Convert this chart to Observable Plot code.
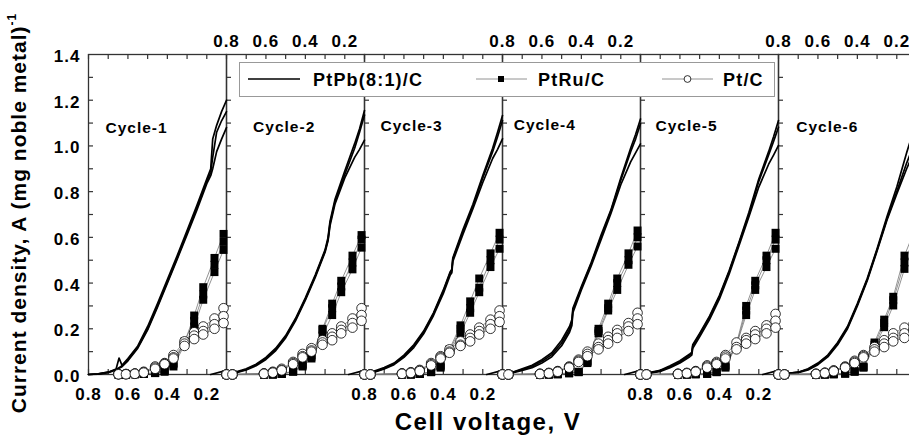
<!DOCTYPE html>
<html>
<head>
<meta charset="utf-8">
<script src="https://cdn.jsdelivr.net/npm/d3@7"></script>
<script src="https://cdn.jsdelivr.net/npm/@observablehq/plot@0.6"></script>
<style>
  html, body { margin: 0; padding: 0; background: white; overflow: hidden; }
  #chart svg text { letter-spacing: 1px; }
</style>
</head>
<body>
<div id="chart"></div>
<script>
// ---------- data ----------
const cycles = [1, 2, 3, 4, 5, 6];
const cycleLabels = ["Cycle-1", "Cycle-2", "Cycle-3", "Cycle-4", "Cycle-5", "Cycle-6"];
const cycleLabelVolt = [0.714, 0.665, 0.719, 0.743, 0.724, 0.71];
const cycleLabelCurr = [1.055, 1.06, 1.067, 1.07, 1.067, 1.06];

const xTickVolts = [0.8, 0.7, 0.6, 0.5, 0.4, 0.3, 0.2];
const xLabelVolts = [0.8, 0.6, 0.4, 0.2];
const xLabelText = ["0.8", "0.6", "0.4", "0.2"];
const bottomLabelCycles = [1, 3, 5];
const topLabelCycles = [2, 4, 6];
const yTickCurr = [0, 0.1, 0.2, 0.3, 0.4, 0.5, 0.6, 0.7, 0.8, 0.9, 1.0, 1.1, 1.2, 1.3];
const yLabelCurr = [0, 0.2, 0.4, 0.6, 0.8, 1.0, 1.2, 1.4];
const yLabelText = ["0.0", "0.2", "0.4", "0.6", "0.8", "1.0", "1.2", "1.4"];

const seriesNames = ["PtPb(8:1)/C", "PtRu/C", "Pt/C"];

// PtPb(8:1)/C : voltage grid per cycle, three runs
const ptpbVolt = [
  [0.8, 0.75, 0.7, 0.66, 0.645, 0.63, 0.6, 0.55, 0.5, 0.45, 0.4, 0.35, 0.3, 0.25, 0.2, 0.18, 0.17, 0.15, 0.125, 0.1],
  [0.8, 0.75, 0.7, 0.65, 0.6, 0.55, 0.5, 0.45, 0.4, 0.35, 0.3, 0.285, 0.275, 0.25, 0.2, 0.15, 0.125, 0.1],
  [0.8, 0.75, 0.7, 0.65, 0.6, 0.55, 0.5, 0.45, 0.4, 0.365, 0.357, 0.352, 0.3, 0.25, 0.2, 0.15, 0.125, 0.1],
  [0.8, 0.75, 0.7, 0.65, 0.6, 0.55, 0.5, 0.46, 0.448, 0.443, 0.4, 0.35, 0.3, 0.25, 0.2, 0.15, 0.125, 0.1],
  [0.8, 0.75, 0.7, 0.65, 0.6, 0.55, 0.54, 0.535, 0.5, 0.45, 0.4, 0.35, 0.3, 0.25, 0.2, 0.15, 0.125, 0.1],
  [0.8, 0.75, 0.7, 0.65, 0.6, 0.55, 0.5, 0.45, 0.4, 0.35, 0.3, 0.25, 0.2, 0.15, 0.125, 0.1]
];
const ptpbRunA = [
  [0, 0.003, 0.01, 0.024, 0.072, 0.04, 0.07, 0.125, 0.21, 0.31, 0.415, 0.52, 0.63, 0.74, 0.855, 0.9, 1.03, 1.09, 1.15, 1.2],
  [0.005, 0.012, 0.025, 0.045, 0.075, 0.115, 0.17, 0.245, 0.335, 0.435, 0.545, 0.6, 0.67, 0.765, 0.89, 1.01, 1.075, 1.155],
  [0.003, 0.015, 0.03, 0.05, 0.085, 0.13, 0.19, 0.27, 0.37, 0.45, 0.46, 0.51, 0.635, 0.745, 0.87, 0.99, 1.06, 1.133],
  [0.003, 0.01, 0.025, 0.04, 0.065, 0.095, 0.15, 0.21, 0.24, 0.29, 0.385, 0.49, 0.61, 0.72, 0.86, 0.99, 1.05, 1.118],
  [0.005, 0.01, 0.018, 0.038, 0.06, 0.09, 0.097, 0.13, 0.18, 0.255, 0.345, 0.455, 0.58, 0.71, 0.855, 0.975, 1.04, 1.111],
  [0.003, 0.005, 0.01, 0.025, 0.05, 0.085, 0.14, 0.21, 0.31, 0.42, 0.55, 0.69, 0.82, 0.97, 1.04, 1.1]
];
const ptpbRunB = [
  [0, 0.003, 0.01, 0.022, 0.03, 0.038, 0.065, 0.12, 0.2, 0.3, 0.405, 0.51, 0.62, 0.73, 0.845, 0.885, 0.95, 1.06, 1.11, 1.15],
  [0.004, 0.01, 0.022, 0.042, 0.07, 0.11, 0.165, 0.24, 0.33, 0.43, 0.54, 0.59, 0.66, 0.755, 0.875, 0.99, 1.06, 1.135],
  [0.003, 0.012, 0.027, 0.047, 0.08, 0.125, 0.185, 0.265, 0.365, 0.445, 0.455, 0.505, 0.625, 0.735, 0.86, 0.975, 1.04, 1.111],
  [0.003, 0.009, 0.022, 0.036, 0.058, 0.087, 0.138, 0.197, 0.228, 0.28, 0.378, 0.485, 0.6, 0.715, 0.85, 0.975, 1.03, 1.097],
  [0.004, 0.008, 0.016, 0.034, 0.055, 0.085, 0.092, 0.125, 0.175, 0.25, 0.34, 0.45, 0.575, 0.7, 0.845, 0.96, 1.02, 1.082],
  [0.003, 0.005, 0.01, 0.023, 0.047, 0.082, 0.135, 0.205, 0.305, 0.415, 0.545, 0.68, 0.8, 0.925, 0.98, 1.04]
];
const ptpbRunC = [
  [0, 0.002, 0.008, 0.02, 0.027, 0.034, 0.06, 0.115, 0.195, 0.295, 0.4, 0.505, 0.612, 0.72, 0.835, 0.87, 0.9, 0.975, 1.03, 1.08],
  [0.003, 0.008, 0.02, 0.038, 0.066, 0.105, 0.16, 0.235, 0.325, 0.425, 0.535, 0.585, 0.65, 0.745, 0.86, 0.95, 0.985, 1.025],
  [0.002, 0.01, 0.024, 0.043, 0.075, 0.118, 0.178, 0.258, 0.355, 0.435, 0.445, 0.495, 0.615, 0.725, 0.84, 0.945, 0.985, 1.031],
  [0.002, 0.007, 0.018, 0.03, 0.05, 0.078, 0.126, 0.185, 0.215, 0.27, 0.37, 0.475, 0.59, 0.705, 0.83, 0.93, 0.97, 1.009],
  [0.003, 0.006, 0.013, 0.03, 0.05, 0.078, 0.085, 0.115, 0.165, 0.24, 0.33, 0.44, 0.565, 0.69, 0.82, 0.92, 0.96, 1.002],
  [0.002, 0.004, 0.008, 0.02, 0.043, 0.077, 0.13, 0.2, 0.3, 0.41, 0.54, 0.675, 0.79, 0.9, 0.95, 1.0]
];
// short PtPb trace at the low-voltage end of cycles 1-5
const ptpbTailCycles = [1, 2, 3, 4, 5];
const ptpbTailVolt = [0.18, 0.1];
const ptpbTailCurr = [0, 0.018];

// Marker voltages shared by PtRu/C and Pt/C (null = no point)
const markerVolt = [0.8, 0.77, 0.648, 0.61, 0.565, 0.52, 0.462, 0.414, 0.369, 0.313, 0.264, 0.218, 0.161, 0.115];

const ptruRunA = [
  [null, null, 0, 0, 0.002, 0.003, 0.008, 0.018, 0.045, 0.14, 0.258, 0.382, 0.51, 0.615],
  [0, 0, null, 0, 0, 0.003, 0.015, 0.045, 0.085, 0.2, 0.31, 0.41, 0.52, 0.61],
  [0, 0, null, 0, 0, 0.002, 0.012, 0.04, 0.11, 0.215, 0.32, 0.42, 0.53, 0.62],
  [0, 0, null, 0, 0, 0.002, 0.008, 0.012, 0.06, 0.2, 0.31, 0.42, 0.53, 0.63],
  [0, 0, null, 0, 0, 0.002, 0.004, 0.012, 0.04, 0.135, 0.3, 0.41, 0.52, 0.62],
  [0, 0, null, 0, 0, 0.002, 0.005, 0.015, 0.035, 0.14, 0.24, 0.34, 0.52, 0.62]
];
const ptruRunB = [
  [null, null, 0, 0, 0.001, 0.002, 0.006, 0.012, 0.035, 0.13, 0.21, 0.327, 0.448, 0.545],
  [0, 0, null, 0, 0, 0.002, 0.012, 0.035, 0.07, 0.17, 0.26, 0.36, 0.46, 0.555],
  [0, 0, null, 0, 0, 0.002, 0.01, 0.03, 0.1, 0.18, 0.27, 0.36, 0.47, 0.55],
  [0, 0, null, 0, 0, 0.001, 0.005, 0.01, 0.05, 0.18, 0.28, 0.37, 0.48, 0.56],
  [0, 0, null, 0, 0, 0.001, 0.003, 0.01, 0.03, 0.13, 0.26, 0.37, 0.47, 0.55],
  [0, 0, null, 0, 0, 0.001, 0.004, 0.012, 0.03, 0.12, 0.207, 0.302, 0.462, 0.56]
];
const ptruRunC = [
  [null, null, 0, 0, 0.001, 0.002, 0.007, 0.015, 0.05, 0.145, 0.235, 0.35, 0.48, 0.58],
  [0, 0, null, 0, 0, 0.002, 0.013, 0.04, 0.078, 0.195, 0.29, 0.385, 0.49, 0.59],
  [0, 0, null, 0, 0, 0.002, 0.011, 0.035, 0.105, 0.2, 0.29, 0.38, 0.5, 0.59],
  [0, 0, null, 0, 0, 0.001, 0.006, 0.011, 0.055, 0.19, 0.29, 0.4, 0.5, 0.6],
  [0, 0, null, 0, 0, 0.001, 0.003, 0.011, 0.035, 0.13, 0.28, 0.39, 0.5, 0.59],
  [0, 0, null, 0, 0, 0.001, 0.004, 0.013, 0.032, 0.13, 0.225, 0.325, 0.49, 0.59]
];

const ptRunA = [
  [null, null, 0.002, 0.002, 0.004, 0.012, 0.035, 0.05, 0.085, 0.145, 0.185, 0.21, 0.245, 0.29],
  [0, 0, null, 0.005, 0.012, 0.025, 0.055, 0.09, 0.115, 0.15, 0.18, 0.21, 0.245, 0.29],
  [0, 0, null, 0.005, 0.01, 0.02, 0.05, 0.08, 0.11, 0.145, 0.175, 0.205, 0.24, 0.28],
  [0, 0, null, 0.003, 0.007, 0.015, 0.035, 0.065, 0.1, 0.135, 0.165, 0.195, 0.225, 0.27],
  [0, 0, null, 0.003, 0.007, 0.015, 0.04, 0.055, 0.085, 0.14, 0.16, 0.19, 0.215, 0.265],
  [0, 0, null, 0.003, 0.008, 0.018, 0.035, 0.06, 0.085, 0.12, 0.15, 0.18, 0.205, 0.22]
];
const ptRunB = [
  [null, null, 0.001, 0.002, 0.004, 0.01, 0.03, 0.047, 0.075, 0.135, 0.17, 0.19, 0.22, 0.255],
  [0, 0, null, 0.004, 0.01, 0.02, 0.05, 0.08, 0.105, 0.14, 0.165, 0.195, 0.225, 0.26],
  [0, 0, null, 0.004, 0.008, 0.018, 0.045, 0.075, 0.1, 0.13, 0.16, 0.19, 0.22, 0.255],
  [0, 0, null, 0.003, 0.006, 0.013, 0.032, 0.06, 0.09, 0.12, 0.15, 0.18, 0.21, 0.245],
  [0, 0, null, 0.003, 0.006, 0.013, 0.035, 0.05, 0.078, 0.12, 0.15, 0.175, 0.2, 0.235],
  [0, 0, null, 0.003, 0.007, 0.016, 0.032, 0.055, 0.08, 0.11, 0.135, 0.16, 0.18, 0.2]
];
const ptRunC = [
  [null, null, 0.001, 0.001, 0.003, 0.008, 0.025, 0.045, 0.07, 0.125, 0.155, 0.175, 0.2, 0.225],
  [0, 0, null, 0.003, 0.008, 0.018, 0.045, 0.075, 0.1, 0.13, 0.15, 0.18, 0.205, 0.235],
  [0, 0, null, 0.003, 0.007, 0.015, 0.04, 0.07, 0.095, 0.125, 0.145, 0.175, 0.2, 0.23],
  [0, 0, null, 0.002, 0.005, 0.012, 0.03, 0.055, 0.08, 0.11, 0.135, 0.16, 0.19, 0.22],
  [0, 0, null, 0.002, 0.005, 0.012, 0.03, 0.045, 0.07, 0.11, 0.135, 0.155, 0.18, 0.205],
  [0, 0, null, 0.002, 0.006, 0.014, 0.03, 0.05, 0.075, 0.1, 0.12, 0.145, 0.16, 0.19]
];

// ---------- tables ----------
function buildRows(volts, runs) {
  const out = [];
  cycles.forEach((c, i) => {
    const v = Array.isArray(volts[0]) ? volts[i] : volts;
    runs.forEach((run, r) => {
      run[i].forEach((j, k) => {
        if (j != null) out.push({cycle: c, run: r, v: v[k], j});
      });
    });
  });
  return out;
}
const ptpbRows = buildRows(ptpbVolt, [ptpbRunA, ptpbRunB, ptpbRunC]);
const ptruRows = buildRows(markerVolt, [ptruRunA, ptruRunB, ptruRunC]);
const ptRows = buildRows(markerVolt, [ptRunA, ptRunB, ptRunC]);
const tailRows = ptpbTailCycles.flatMap(c => ptpbTailVolt.map((v, k) => ({cycle: c, v, j: ptpbTailCurr[k]})));

const xTickRows = cycles.flatMap(c => xTickVolts.map(v => ({cycle: c, v})));
const yTickRows = cycles.flatMap(c => yTickCurr.map(j => ({cycle: c, j})));
const bottomLabelRows = bottomLabelCycles.flatMap(c => xLabelVolts.map((v, k) => ({cycle: c, v, label: xLabelText[k]})));
const topLabelRows = topLabelCycles.flatMap(c => xLabelVolts.map((v, k) => ({cycle: c, v, label: xLabelText[k]})));
const yLabelRows = yLabelCurr.map((j, k) => ({cycle: 1, j, label: yLabelText[k]}));
const cycleLabelRows = cycles.map((c, i) => ({cycle: c, v: cycleLabelVolt[i], j: cycleLabelCurr[i], label: cycleLabels[i]}));

const axisColor = "#333";
const thinLine = "#777";

const chart = Plot.plot({
  width: 916,
  height: 436,
  marginLeft: 88,
  marginRight: 0,
  marginTop: 54,
  marginBottom: 62,
  style: {fontFamily: "'Liberation Sans', Arial, sans-serif", color: "#000", background: "white", maxWidth: "none"},
  x: {domain: [0.8, 0.1], axis: null},
  y: {domain: [0, 1.4], axis: null},
  fx: {domain: cycles, padding: 0, axis: null},
  marks: [
    Plot.frame({stroke: axisColor, strokeWidth: 1.3}),
    Plot.tickX(xTickRows, {x: "v", fx: "cycle", insetBottom: 315, stroke: axisColor, strokeWidth: 1.2}),
    Plot.tickX(xTickRows, {x: "v", fx: "cycle", insetTop: 315, stroke: axisColor, strokeWidth: 1.2}),
    Plot.tickY(yTickRows, {y: "j", fx: "cycle", insetRight: 133, stroke: axisColor, strokeWidth: 1.2}),
    Plot.text(bottomLabelRows, {x: "v", fx: "cycle", text: "label", frameAnchor: "bottom", lineAnchor: "bottom", dy: 25, fontSize: 17, fontWeight: "bold"}),
    Plot.text(topLabelRows, {x: "v", fx: "cycle", text: "label", frameAnchor: "top", lineAnchor: "bottom", dy: -8, fontSize: 17, fontWeight: "bold"}),
    Plot.text(yLabelRows, {y: "j", fx: "cycle", text: "label", frameAnchor: "left", textAnchor: "end", dx: -8, dy: 2, fontSize: 17, fontWeight: "bold"}),
    Plot.text(cycleLabelRows, {x: "v", y: "j", fx: "cycle", text: "label", textAnchor: "start", lineAnchor: "bottom", fontSize: 15.5, fontWeight: "bold"}),
    Plot.line(ptpbRows, {x: "v", y: "j", z: "run", fx: "cycle", stroke: "black", strokeWidth: 1.7}),
    Plot.line(tailRows, {x: "v", y: "j", fx: "cycle", stroke: "black", strokeWidth: 1.7}),
    Plot.line(ptruRows, {x: "v", y: "j", z: "run", fx: "cycle", stroke: thinLine, strokeWidth: 0.8}),
    Plot.dot(ptruRows, {x: "v", y: "j", fx: "cycle", symbol: "square", r: 4.5, fill: "black", stroke: "none"}),
    Plot.line(ptRows, {x: "v", y: "j", z: "run", fx: "cycle", stroke: thinLine, strokeWidth: 0.8}),
    Plot.dot(ptRows, {x: "v", y: "j", fx: "cycle", symbol: "circle", r: 4.8, fill: "white", stroke: "black", strokeWidth: 0.8})
  ]
});

const svg = d3.select(chart);

// axis titles
const yTitle = svg.append("text")
  .attr("transform", "translate(26,213) rotate(-90)")
  .attr("text-anchor", "middle")
  .attr("font-size", 21).attr("font-weight", "bold").attr("fill", "black")
  .style("letter-spacing", "1px");
yTitle.append("tspan").text("Current density, A (mg noble metal)");
yTitle.append("tspan").attr("font-size", 12).attr("dy", -10).text("-1");

svg.append("text")
  .attr("x", 488).attr("y", 430)
  .attr("text-anchor", "middle")
  .attr("font-size", 24).attr("font-weight", "bold").attr("fill", "black")
  .style("letter-spacing", "1.5px")
  .text("Cell voltage, V");

// legend
const lg = svg.append("g");
lg.append("rect").attr("x", 239.5).attr("y", 62.5).attr("width", 535).attr("height", 34)
  .attr("fill", "white").attr("stroke", "#999").attr("stroke-width", 1);
lg.append("line").attr("x1", 248).attr("x2", 300).attr("y1", 79).attr("y2", 79).attr("stroke", "black").attr("stroke-width", 1.6);
lg.append("line").attr("x1", 476).attr("x2", 527).attr("y1", 79).attr("y2", 79).attr("stroke", thinLine).attr("stroke-width", 0.8);
lg.append("rect").attr("x", 498).attr("y", 76).attr("width", 6).attr("height", 6).attr("fill", "black");
lg.append("line").attr("x1", 662).attr("x2", 713).attr("y1", 79).attr("y2", 79).attr("stroke", thinLine).attr("stroke-width", 0.8);
lg.append("circle").attr("cx", 687.5).attr("cy", 79).attr("r", 3.4).attr("fill", "white").attr("stroke", "black").attr("stroke-width", 0.8);
[[313, seriesNames[0]], [538, seriesNames[1]], [723, seriesNames[2]]].forEach(([x, t]) => {
  lg.append("text").attr("x", x).attr("y", 86)
    .attr("text-anchor", "start")
    .attr("font-size", 18).attr("font-weight", "bold").attr("fill", "black")
    .style("letter-spacing", "1.2px").text(t);
});

document.getElementById("chart").appendChild(chart);
</script>
</body>
</html>
